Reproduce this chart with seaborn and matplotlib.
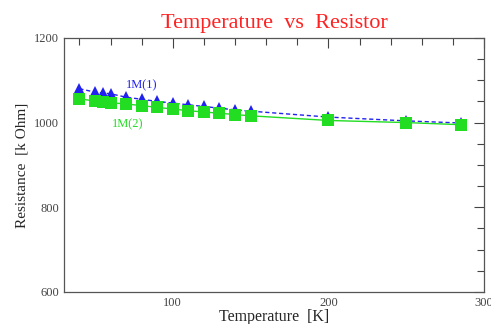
import numpy as np
import pandas as pd
import seaborn as sns
import matplotlib.pyplot as plt
from matplotlib.ticker import MultipleLocator

# Data
temp = [40, 50, 55, 60, 70, 80, 90, 100, 110, 120, 130, 140, 150, 200, 250, 285]
r_1m1 = [1080, 1072, 1070, 1068, 1060, 1055, 1050, 1046, 1042, 1038, 1034, 1030, 1027, 1013, 1004, 999]
r_1m2 = [1056, 1051, 1049, 1047, 1044, 1040, 1036, 1032, 1028, 1025, 1022, 1019, 1016, 1005, 1000, 995]

df = pd.DataFrame({
    "Temperature": temp * 2,
    "Resistance": r_1m1 + r_1m2,
    "Sample": ["1M(1)"] * len(temp) + ["1M(2)"] * len(temp),
})

sns.set_style("white")
plt.rcParams["font.family"] = ["Liberation Serif", "DejaVu Serif"]

fig = plt.figure(figsize=(4.91, 3.24), dpi=100)
ax = fig.add_axes([0.130, 0.099, 0.856, 0.784])

colors = {"1M(1)": "#2222ee", "1M(2)": "#22dd22"}
markers = {"1M(1)": "^", "1M(2)": "s"}
sns.lineplot(data=df, x="Temperature", y="Resistance", hue="Sample", style="Sample",
             palette=colors, markers=markers, dashes={"1M(1)": (3, 2), "1M(2)": ""},
             markersize=8, markeredgewidth=0, linewidth=1, legend=False, ax=ax)

ax.text(70, 1082, "1M(1)", color="#2222ee", fontsize=9)
ax.text(61, 990, "1M(2)", color="#22dd22", fontsize=9)

ax.set_xlim(30, 300)
ax.set_ylim(600, 1200)
ax.xaxis.set_major_locator(MultipleLocator(100))
ax.xaxis.set_minor_locator(MultipleLocator(20))
ax.yaxis.set_major_locator(MultipleLocator(200))
ax.yaxis.set_minor_locator(MultipleLocator(50))
ax.tick_params(which="both", direction="in", top=True, right=True, labelsize=9,
               labelcolor="#444444", color="#444444")
ax.tick_params(which="major", length=7, width=0.8)
ax.tick_params(which="minor", length=5, width=0.8)
for s in ax.spines.values():
    s.set_color("#555555")
    s.set_linewidth(0.9)

ax.set_xlabel("Temperature  [K]", fontsize=11.5, labelpad=0)
ax.set_ylabel("Resistance  [k Ohm]", fontsize=11, labelpad=4)
ax.set_title("Temperature  vs  Resistor", color="#ff2222", fontsize=16, pad=7)

fig.savefig("out.png", dpi=100)
